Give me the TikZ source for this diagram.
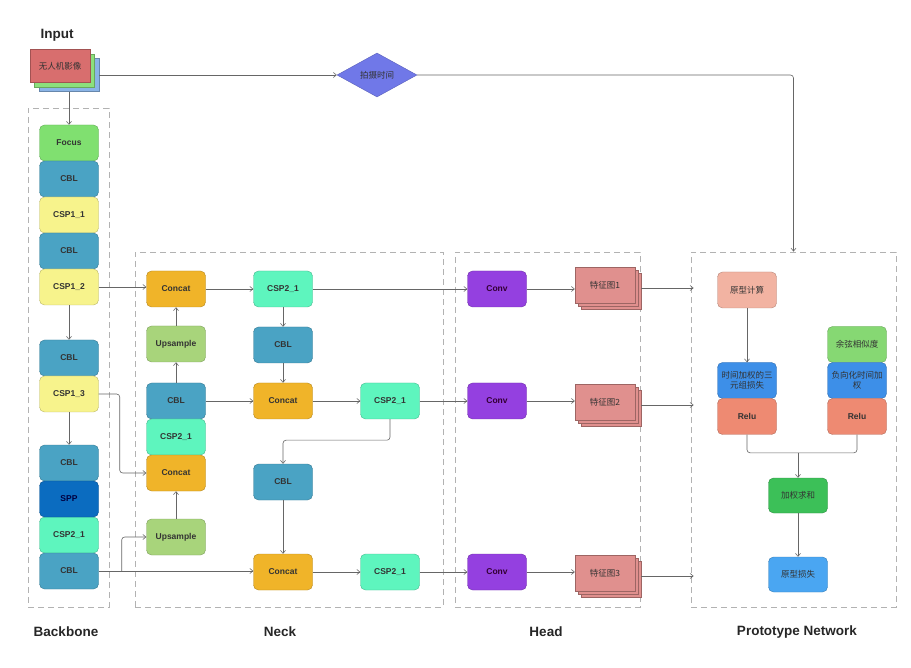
\documentclass[tikz,border=0pt]{standalone}
\usepackage{fontspec}
\setmainfont{Liberation Sans}
\newfontfamily\cjk{Noto Sans CJK SC}
\usetikzlibrary{arrows.meta,shapes.geometric,shadows,positioning}

% Couleurs
\definecolor{cFocus}{HTML}{80E070}
\definecolor{cCbl}{HTML}{4AA3C4}
\definecolor{cCspa}{HTML}{F7F38C}
\definecolor{cCspb}{HTML}{5EF5BE}
\definecolor{cSpp}{HTML}{0B6CC0}
\definecolor{cConcat}{HTML}{F0B429}
\definecolor{cUps}{HTML}{A8D47B}
\definecolor{cConv}{HTML}{9440E0}
\definecolor{cFeat}{HTML}{E0908E}
\definecolor{cInR}{HTML}{D86E6E}
\definecolor{cInG}{HTML}{8CE07C}
\definecolor{cInB}{HTML}{8AB4E6}
\definecolor{cDia}{HTML}{7078E8}
\definecolor{cProto}{HTML}{F2B3A2}
\definecolor{cTri}{HTML}{3D8FE8}
\definecolor{cRelu}{HTML}{EE8A72}
\definecolor{cCos}{HTML}{86D873}
\definecolor{cSum}{HTML}{3CC058}
\definecolor{cLoss}{HTML}{4AA6F2}

\tikzset{
  blk/.style={draw=#1!75!black, fill=#1, rounded corners=5pt,
    minimum width=59pt, minimum height=36pt, inner sep=1pt,
    text=black!80, font=\bfseries\fontsize{8.5}{10}\selectfont},
  cn/.style={font=\cjk\fontsize{8.5}{10.5}\selectfont, align=center},
  group/.style={draw=gray!60, dash pattern=on 6pt off 4pt, line width=0.8pt},
  title/.style={font=\bfseries\fontsize{13.5}{16}\selectfont, text=black!85},
  arr/.style={draw=black!60, line width=0.6pt, -{Straight Barb[length=3pt,width=5pt]}},
  ln/.style={draw=black!60, line width=0.6pt},
  stackin/.style={cn, draw=cInR!75!black, fill=cInR, text=black!80,
    minimum width=60pt, minimum height=33pt,
    copy shadow={shadow xshift=9pt, shadow yshift=-9pt, fill=cInB, draw=cInB!75!black},
    copy shadow={shadow xshift=4.5pt, shadow yshift=-4.5pt, fill=cInG, draw=cInG!75!black}},
  featmap/.style={cn, draw=cFeat!70!black, fill=cFeat, text=black!80,
    minimum width=60pt, minimum height=36pt,
    copy shadow={shadow xshift=6pt, shadow yshift=-6pt, fill=cFeat, draw=cFeat!70!black},
    copy shadow={shadow xshift=3pt, shadow yshift=-3pt, fill=cFeat, draw=cFeat!70!black}},
  cond/.style={cn, diamond, aspect=1.8, fill=cDia, draw=cDia!80!black,
    minimum width=80pt, minimum height=44pt, inner sep=0pt, text=black!80}
}

\begin{document}
\begin{tikzpicture}[x=1pt, y=-1pt]
  \useasboundingbox (0,0) rectangle (911,668);

  % Cadres
  \node[group, minimum width=81pt, minimum height=499pt] (backbox) at (68.5,357.5) {};
  \node[group, minimum width=308pt, minimum height=355pt] (neckbox) at (289,429.5) {};
  \node[group, minimum width=185pt, minimum height=355pt] (headbox) at (547.5,429.5) {};
  \node[group, minimum width=205pt, minimum height=355pt] (protobox) at (793.5,429.5) {};

  % Titres
  \node[title] (tInput) at (57,35) {Input};
  \node[title] (tBack) at (66,632) {Backbone};
  \node[title] (tNeck) at (280,632) {Neck};
  \node[title] (tHead) at (546,632) {Head};
  \node[title] (tProto) at (797,632) {Prototype Network};

  % Entree
  \node[stackin] (img) at (60,66) {无人机影像};
  \node[cond] (shoot) at (377,75) {拍摄时间};

  % Backbone
  \foreach \n/\t/\c/\y in {focus/Focus/cFocus/143, cblA/CBL/cCbl/179,
      cspA/CSP1\_1/cCspa/215, cblB/CBL/cCbl/251, cspB/CSP1\_2/cCspa/287,
      cblC/CBL/cCbl/358, cspC/CSP1\_3/cCspa/394, cblD/CBL/cCbl/463,
      cspD/CSP2\_1/cCspb/535, cblE/CBL/cCbl/571}
    \node[blk=\c] (\n) at (69,\y) {\t};
  \node[blk=cSpp, text=blue!25!black] (spp) at (69,499) {SPP};

  % Neck
  \node[blk=cConcat] (catA) at (176,289) {Concat};
  \node[blk=cUps] (upsA) at (176,344) {Upsample};
  \node[blk=cCbl] (cblF) at (176,401) {CBL};
  \node[blk=cCspb] (cspE) at (176,437) {CSP2\_1};
  \node[blk=cConcat] (catB) at (176,473) {Concat};
  \node[blk=cUps] (upsB) at (176,537) {Upsample};
  \node[blk=cCspb] (cspF) at (283,289) {CSP2\_1};
  \node[blk=cCbl] (cblG) at (283,345) {CBL};
  \node[blk=cConcat] (catC) at (283,401) {Concat};
  \node[blk=cCbl] (cblH) at (283,482) {CBL};
  \node[blk=cConcat] (catD) at (283,572) {Concat};
  \node[blk=cCspb] (cspG) at (390,401) {CSP2\_1};
  \node[blk=cCspb] (cspH) at (390,572) {CSP2\_1};

  % Head
  \foreach \i/\y/\f in {1/289/285, 2/401/402, 3/572/573} {
    \node[blk=cConv, text=violet!40!black] (conv\i) at (497,\y) {Conv};
    \node[featmap] (feat\i) at (605,\f) {特征图\i};
  }

  % Prototype Network
  \node[blk=cProto, cn] (proto) at (747,290) {原型计算};
  \node[blk=cTri, cn] (tri) at (747,380.5) {时间加权的三\\元组损失};
  \node[blk=cRelu] (reluA) at (747,416.5) {Relu};
  \node[blk=cCos, cn] (cos) at (857,344.5) {余弦相似度};
  \node[blk=cTri, cn] (neg) at (857,380.5) {负向化时间加\\权};
  \node[blk=cRelu] (reluB) at (857,416.5) {Relu};
  \node[blk=cSum, cn, minimum height=35pt] (sum) at (798,495.5) {加权求和};
  \node[blk=cLoss, cn, minimum height=35pt] (loss) at (798,574.5) {原型损失};

  % Liaisons entree
  \draw[arr] ([xshift=9pt,yshift=-9pt]img.east) -- (shoot.west);
  \draw[arr, rounded corners=3pt] (shoot.east) -| (protobox.north);
  \draw[arr] ([xshift=9pt,yshift=-9pt]img.south) -- (focus.north);

  % Liaisons backbone
  \draw[arr] (cspB) -- (cblC);
  \draw[arr] (cspC) -- (cblD);
  \draw[arr] (cspB.east) -- (cspB.east -| catA.west);
  \draw[arr, rounded corners=3pt] (cspC.east) -- ++(21,0) |- (catB.west);
  \draw[arr] (cblE.east) -- (cblE.east -| catD.west);
  \coordinate (split) at ([xshift=23pt]cblE.east);
  \draw[arr, rounded corners=3pt] (split) |- (upsB.west);

  % Liaisons neck
  \draw[arr] (catA) -- (cspF);
  \draw[arr] (cspF) -- (conv1);
  \draw[arr] (cspF) -- (cblG);
  \draw[arr] (cblG) -- (catC);
  \draw[arr] (cblF) -- (upsA);
  \draw[arr] (upsA) -- (catA);
  \draw[arr] (cblF) -- (catC);
  \draw[arr] (catC) -- (cspG);
  \draw[arr] (cspG) -- (conv2);
  \draw[arr, rounded corners=3pt] (cspG.south) -- ++(0,21) -| (cblH.north);
  \draw[arr] (cblH) -- (catD);
  \draw[arr] (upsB) -- (catB);
  \draw[arr] (catD) -- (cspH);
  \draw[arr] (cspH) -- (conv3);

  % Liaisons head
  \foreach \i in {1,2,3} {
    \draw[arr] (conv\i) -- (conv\i -| feat\i.west);
    \draw[arr] ([xshift=6pt,yshift=-3pt]feat\i.east) -- ([xshift=3pt,yshift=-3pt]feat\i.east -| protobox.west);
  }

  % Liaisons prototype
  \draw[arr] (proto) -- (tri);
  \coordinate (join) at ([yshift=25pt]sum.north);
  \draw[ln, rounded corners=3pt] (reluA.south) |- (join);
  \draw[ln, rounded corners=3pt] (reluB.south) |- (join);
  \draw[arr] (join) -- (sum);
  \draw[arr] (sum) -- (loss);
\end{tikzpicture}
\end{document}
